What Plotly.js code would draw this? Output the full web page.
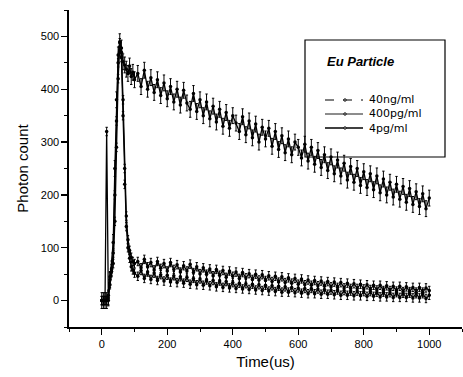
<!DOCTYPE html>
<html>
<head>
<meta charset="utf-8">
<script src="https://cdn.plot.ly/plotly-3.0.1.min.js"></script>
<style>html,body{margin:0;padding:0;background:#fff;}#chart{width:463px;height:377px;}</style>
</head>
<body>
<div id="chart"></div>
<script>
// Time axis (us)
const timeUs = [0,5,10,15,20,25,30,35,40,45,50,55,60,65,70,75,80,85,90,95,100,
110,120,130,140,150,160,170,180,190,200,210,220,230,240,250,260,270,280,290,300,
310,320,330,340,350,360,370,380,390,400,410,420,430,440,450,460,470,480,490,500,
510,520,530,540,550,560,570,580,590,600,610,620,630,640,650,660,670,680,690,700,
710,720,730,740,750,760,770,780,790,800,810,820,830,840,850,860,870,880,890,900,
910,920,930,940,950,960,970,980,990,1000];

// 40ng/ml
const count40ng = [0,0,0,0,5,40,60,110,250,380,465,490,478,452,446,438,430,444,424,432,418,
430,405,436,400,422,394,418,388,412,382,405,376,400,370,398,374,362,392,358,380,
350,376,344,368,338,362,330,356,326,350,336,320,348,314,340,308,334,300,328,306,
326,292,320,286,312,280,306,276,300,290,270,296,264,290,258,284,252,276,246,272,
240,266,236,260,228,254,224,250,218,244,214,240,210,236,204,230,200,224,196,220,
192,216,186,212,182,206,178,202,174,194];

// 400pg/ml
const count400pg = [0,0,0,0,0,30,55,70,150,290,420,480,470,380,250,160,115,95,82,74,70,
74,62,78,64,72,58,74,61,70,56,72,59,68,54,66,56,69,53,64,51,
62,50,60,47,59,48,57,44,56,46,54,42,53,43,51,40,50,39,49,38,
47,36,46,35,45,34,43,33,42,31,41,30,39,29,38,28,37,27,36,26,
35,25,34,24,33,23,32,23,31,22,30,21,29,20,29,19,28,19,27,18,
27,17,26,17,25,16,25,16,24,19];

// 4pg/ml
const count4pg = [0,0,0,320,10,45,60,90,200,340,450,488,460,350,220,140,100,80,64,58,52,
46,57,42,54,40,52,38,49,37,48,35,47,34,45,33,44,31,42,30,41,
29,39,28,38,26,37,25,36,24,34,23,33,22,32,21,31,20,30,19,29,
18,28,17,27,16,26,16,25,15,24,14,23,13,23,13,22,12,21,12,20,
11,20,10,19,10,18,9,18,9,17,8,17,8,16,7,16,7,15,6,15,
6,14,6,14,5,13,5,13,4,10];

const seriesNames = ['40ng/ml','400pg/ml','4pg/ml'];
const seriesData = [count40ng, count400pg, count4pg];
const seriesErr = [15, 8, 8];
const legendDash = ['dash','solid','solid'];
const legendWidth = [1.1, 0.9, 1.3];

const ink = '#000';
const traces = seriesData.map((y, i) => ({
  type: 'scatter', mode: 'lines+markers', name: seriesNames[i],
  x: timeUs, y: y,
  line: {color: ink, width: 1.3},
  marker: {color: ink, size: 3.5},
  error_y: {type: 'constant', value: seriesErr[i], color: ink, thickness: 1, width: 1.2},
  showlegend: false
}));

// Manual legend (box, title, samples)
const L = 69, PW = 393, T = 10, PH = 317;
const px = v => (v - L) / PW;
const py = v => (T + PH - v) / PH;
const shapes = [{type:'rect', xref:'paper', yref:'paper', x0:px(305), x1:px(445), y0:py(157), y1:py(40), line:{color:ink, width:1.2}, fillcolor:'rgba(0,0,0,0)'}];
const annotations = [{xref:'paper', yref:'paper', x:px(325), y:py(62), xanchor:'left', yanchor:'middle', text:'<b><i>Eu Particle</i></b>', showarrow:false, font:{family:'Liberation Sans, Arial, sans-serif', size:13, color:ink}}];
const legendY = [100, 114, 128];
seriesNames.forEach((n, i) => {
  shapes.push({type:'line', xref:'paper', yref:'paper', x0:px(325), x1:px(363), y0:py(legendY[i]), y1:py(legendY[i]), line:{color:ink, width:legendWidth[i], dash:legendDash[i]}});
  shapes.push({type:'circle', xref:'paper', yref:'paper', x0:px(343.8), x1:px(346.2), y0:py(legendY[i]+1.2), y1:py(legendY[i]-1.2), line:{color:ink, width:1}, fillcolor:'#fff'});
});
annotations.push({xref:'paper', yref:'paper', x:px(367), y:py(114), xanchor:'left', yanchor:'middle', align:'left', text:seriesNames.join('<br>'), showarrow:false, font:{family:'DejaVu Sans, sans-serif', size:11, color:ink}});

const layout = {
  width: 463, height: 377,
  margin: {l: 69, r: 1, t: 10, b: 50},
  paper_bgcolor: '#fff', plot_bgcolor: '#fff',
  font: {family: 'Liberation Sans, Arial, sans-serif', color: ink},
  showlegend: false,
  xaxis: {
    range: [-100, 1100], tickmode: 'linear', tick0: 0, dtick: 200,
    showgrid: false, zeroline: false, showline: true, linecolor: ink, linewidth: 1.6,
    ticks: 'outside', ticklen: 6, tickwidth: 1.3, tickcolor: ink,
    minor: {dtick: 100, tick0: 0, ticks: 'outside', ticklen: 3, tickwidth: 1, tickcolor: ink},
    tickfont: {size: 11, color: ink},
    title: {text: 'Time(us)', font: {size: 15, color: ink}, standoff: 8}
  },
  yaxis: {
    range: [-50, 550], tickmode: 'linear', tick0: 0, dtick: 100,
    showgrid: false, zeroline: false, showline: true, linecolor: ink, linewidth: 1.6,
    ticks: 'outside', ticklen: 6, tickwidth: 1.3, tickcolor: ink,
    minor: {dtick: 50, tick0: 0, ticks: 'outside', ticklen: 3, tickwidth: 1, tickcolor: ink},
    tickfont: {size: 11, color: ink},
    title: {text: 'Photon count', font: {size: 15, color: ink}, standoff: 8}
  },
  shapes: shapes,
  annotations: annotations
};

Plotly.newPlot('chart', traces, layout, {displayModeBar: false, staticPlot: true});
</script>
</body>
</html>
